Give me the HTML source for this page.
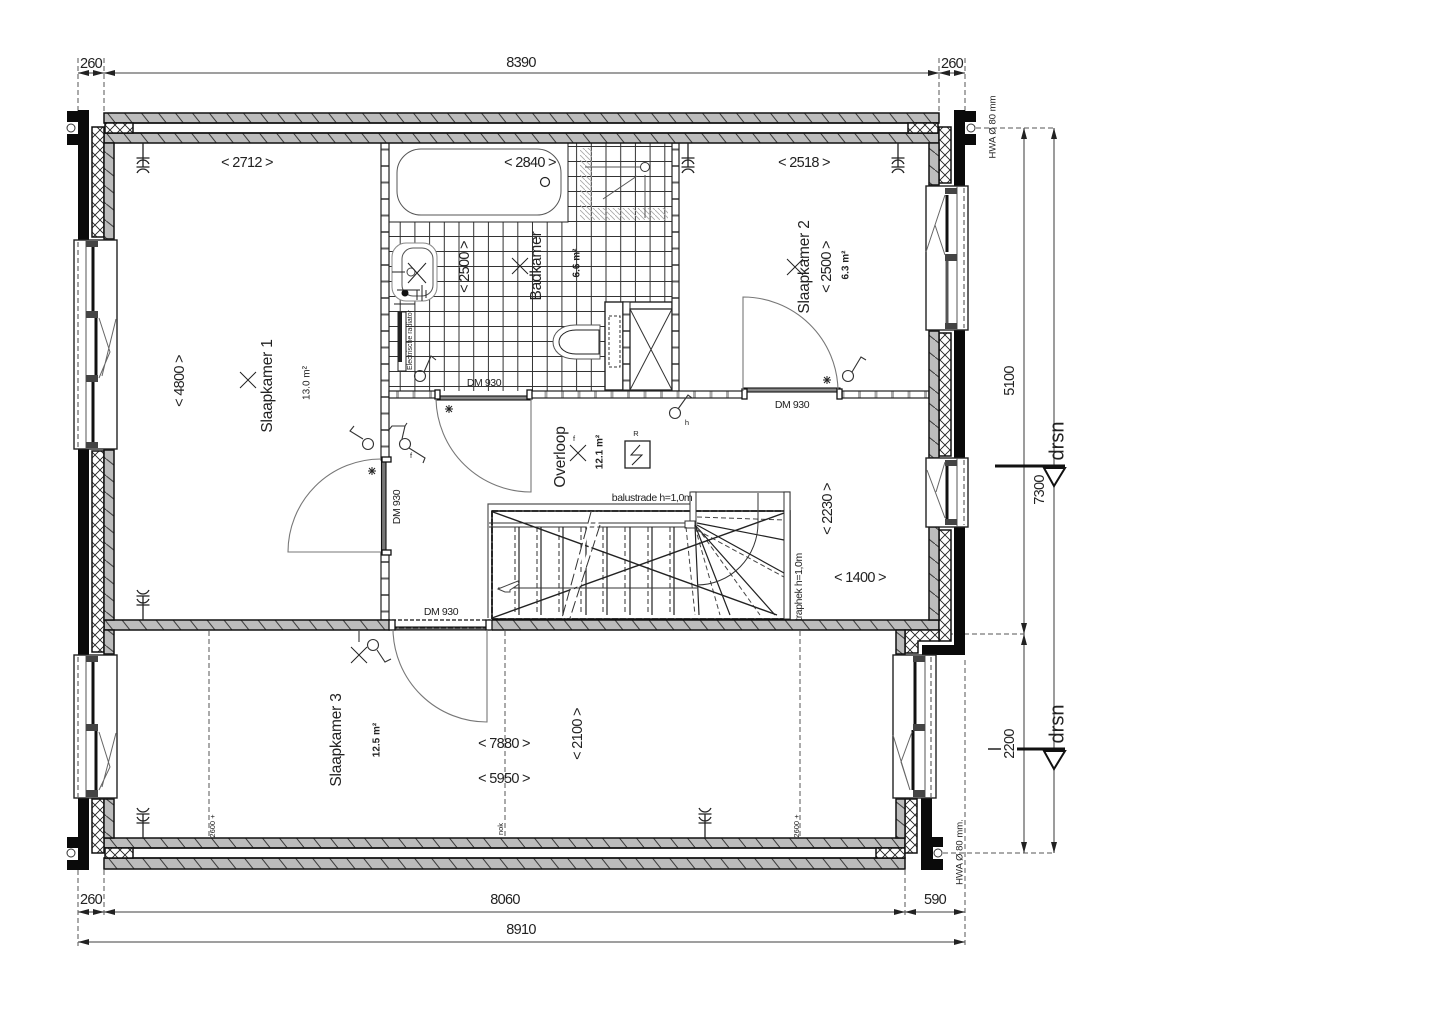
<!DOCTYPE html>
<html><head><meta charset="utf-8"><title>Floor plan</title>
<style>
html,body{margin:0;padding:0;background:#fff}
svg{display:block;filter:blur(.35px)}
text{font-family:"Liberation Sans",sans-serif;font-size:14.5px;letter-spacing:-.7px;fill:#222;text-anchor:middle;dominant-baseline:middle}
.s{font-size:10.5px;letter-spacing:-.4px}.b{font-size:10px;font-weight:bold;letter-spacing:0}.t{font-size:7.5px;letter-spacing:0}.l{font-size:15.5px;letter-spacing:-.2px}
.k{stroke:#222;fill:none}.g{stroke:#777;fill:none}.d{stroke:#555;fill:none;stroke-dasharray:5 3}
</style></head><body>
<svg width="1440" height="1017" viewBox="0 0 1440 1017" xmlns="http://www.w3.org/2000/svg">
<defs>
<pattern id="hh" patternUnits="userSpaceOnUse" width="17" height="21.25"><rect width="17" height="21.25" fill="#bcbcbc"/><path d="M0 0L17 21.25" stroke="#333" stroke-width="1" fill="none"/></pattern>
<pattern id="hv" patternUnits="userSpaceOnUse" width="21.25" height="17"><rect width="21.25" height="17" fill="#bcbcbc"/><path d="M0 0L21.25 17" stroke="#333" stroke-width="1" fill="none"/></pattern>
<pattern id="x" patternUnits="userSpaceOnUse" width="10" height="10"><rect width="10" height="10" fill="#fff"/><path d="M0 0L10 10M10 0L0 10" stroke="#222" stroke-width=".9"/></pattern>
<pattern id="tile" patternUnits="userSpaceOnUse" x="386" y="147" width="14.7" height="15"><path d="M14.2 0V15M0 14.5H14.7" stroke="#333" stroke-width="1" fill="none"/></pattern>
<pattern id="lv" patternUnits="userSpaceOnUse" width="8" height="16.5"><rect width="8" height="16.5" fill="#fff"/><rect y="0" width="8" height="2" fill="#666"/></pattern>
<pattern id="lh" patternUnits="userSpaceOnUse" width="16.5" height="8"><rect width="16.5" height="8" fill="#fff"/><rect x="0" width="3" height="8" fill="#aaa"/></pattern>
<pattern id="sh" patternUnits="userSpaceOnUse" width="5" height="5"><path d="M0 0L5 5" stroke="#aaa" stroke-width=".9"/></pattern>
<marker id="a" markerWidth="12" markerHeight="6" refX="11" refY="3" orient="auto-start-reverse" markerUnits="userSpaceOnUse"><path d="M0 0L11 3L0 6Z" fill="#222"/></marker>
</defs>
<rect width="1440" height="1017" fill="#fff"/>

<!-- dimension extension lines -->
<g class="d" stroke-width="1">
<path class="d" d="M78 58V112M104 58V113M939 58V113M965 58V112"/>
<path class="d" d="M78 870V946M104 870V916M905 870V916M965 660V946"/>
<path class="d" d="M976 128H1054M940 634H1024M943 853H1054"/>
<path class="d" d="M209 631V838M505 631V838M800 631V838"/>
</g>

<!-- top dims -->
<g stroke="#666" stroke-width="1.3" fill="none">
<path d="M78 73H104" marker-start="url(#a)" marker-end="url(#a)"/>
<path d="M104 73H939" marker-start="url(#a)" marker-end="url(#a)"/>
<path d="M939 73H965" marker-start="url(#a)" marker-end="url(#a)"/>
<path d="M78 912H104" marker-start="url(#a)" marker-end="url(#a)"/>
<path d="M104 912H905" marker-start="url(#a)" marker-end="url(#a)"/>
<path d="M905 912H965" marker-start="url(#a)" marker-end="url(#a)"/>
<path d="M78 942H965" marker-start="url(#a)" marker-end="url(#a)"/>
<path d="M1024 128V634" marker-start="url(#a)" marker-end="url(#a)"/>
<path d="M1024 634V853" marker-start="url(#a)" marker-end="url(#a)"/>
<path d="M1054 128V853" marker-start="url(#a)" marker-end="url(#a)"/>
</g>
<text x="91" y="64">260</text><text x="521" y="63">8390</text><text x="952" y="64">260</text>
<text x="91" y="900">260</text><text x="505" y="900">8060</text><text x="935" y="900">590</text><text x="521" y="930">8910</text>
<text transform="translate(1010 381) rotate(-90)">5100</text>
<text transform="translate(1040 490) rotate(-90)">7300</text>
<text transform="translate(1010 744) rotate(-90)">2200</text>
<text transform="translate(1058 441) rotate(-90)" style="font-size:20px;letter-spacing:0">drsn</text>
<text transform="translate(1058 724) rotate(-90)" style="font-size:20px;letter-spacing:0">drsn</text>
<text transform="translate(993 127) rotate(-90)" class="s" style="font-size:9.5px;letter-spacing:0">HWA Ø 80 mm</text>
<text transform="translate(960 852) rotate(-90)" class="s" style="font-size:9.5px;letter-spacing:0">HWA Ø 80 mm.</text>
<path d="M995 466H1065M1017 749H1065" stroke="#111" stroke-width="3" fill="none"/>
<path d="M988 749H1001" stroke="#111" stroke-width="1.4" fill="none"/>
<path d="M1044 468H1065L1054 486Z M1044 751H1065L1054 769Z" fill="#fff" stroke="#111" stroke-width="2"/>

<!-- tiles -->
<rect x="389" y="143" width="283" height="248" fill="url(#tile)"/>
<rect x="389" y="143" width="179" height="79" fill="#fff"/>
<path d="M389 222H568V143" class="k"/>
<rect x="397" y="149" width="164" height="66" rx="24" fill="#fff" stroke="#555" stroke-width="1"/>
<circle cx="545" cy="182" r="4.5" fill="none" stroke="#222" stroke-width="1.2"/>
<path d="M580 148H592V208H668V220H580Z" fill="url(#sh)"/>
<path d="M585 167H640M603 199L637 176M645 175V218" stroke="#555" fill="none"/>
<circle cx="645" cy="167" r="4.5" fill="#fff" stroke="#333"/>
<!-- sink -->
<rect x="392" y="243" width="45" height="58" rx="14" fill="#fff" stroke="#888" stroke-width="1"/>
<rect x="402" y="248" width="31" height="48" rx="11" fill="#fff" stroke="#555" stroke-width="1"/>
<circle cx="411" cy="272" r="4" fill="none" stroke="#444"/>
<path d="M408 263L426 283M426 263L408 283" stroke="#222" stroke-width="1"/>
<circle cx="405" cy="293" r="3.5" fill="#111"/>
<path d="M392 272H405M397 290H420M394 304H415M417 300V290M422 301V285M426 298V290" stroke="#222" stroke-width="1" fill="none"/>
<!-- radiator -->
<rect x="398" y="312" width="8" height="59" fill="#fff" stroke="#222"/>
<rect x="398" y="312" width="4" height="50" fill="#222"/>
<text transform="translate(410 340) rotate(-90)" class="t" style="font-size:7px">Electrische radiator</text>
<!-- toilet -->
<path d="M600 325H575C560 325 553 334 553 342C553 350 560 359 575 359H600Z" fill="#fff" stroke="#555"/>
<path d="M599 330H576C565 330 559 336 559 342C559 348 565 354 576 354H599Z" fill="#fff" stroke="#222"/>
<rect x="605" y="302" width="18" height="88" fill="#fff" stroke="#222" stroke-width="1.4"/>
<rect x="609" y="316" width="11" height="51" fill="none" stroke="#333" stroke-dasharray="3 2"/>
<rect x="623" y="302" width="49" height="88" fill="#fff" stroke="#222" stroke-width="1.4"/>
<rect x="623" y="302" width="7" height="88" fill="url(#lv)" stroke="#222"/>
<rect x="630" y="309" width="42" height="81" fill="#fff" stroke="#222" stroke-width="1.3"/>
<path d="M630 309L672 390M672 309L630 390" stroke="#333"/>

<!-- partitions -->
<g stroke="#222" stroke-width="1.2">
<rect x="381" y="143" width="8" height="317" fill="url(#lv)"/>
<rect x="381" y="552" width="8" height="68" fill="url(#lv)"/>
<rect x="672" y="143" width="7" height="248" fill="url(#lv)"/>
<rect x="389" y="391" width="47" height="7" fill="url(#lh)"/>
<rect x="531" y="391" width="212" height="7" fill="url(#lh)"/>
<rect x="840" y="391" width="89" height="7" fill="url(#lh)"/>
</g>

<!-- stairs -->
<g fill="none">
<path d="M488 618V504H692M692 504V492H790V511" stroke="#555" stroke-width="1.2"/>
<rect x="492" y="511" width="298" height="108" stroke="#111" stroke-width="1.5"/>
<path d="M492 511H692M695 511H790M492 619H785M785 511V619M492 511V619" stroke="#111" stroke-width="1.6" stroke-dasharray="6 2"/>
<rect x="690" y="492" width="6" height="33" fill="#fff" stroke="#333"/>
<rect x="784" y="492" width="6" height="127" fill="#fff" stroke="#333"/>
<path d="M489 523H685M489 527H685" stroke="#333" stroke-width="1.1"/>
<rect x="685" y="521" width="10" height="7" fill="#fff" stroke="#333"/>
<path d="M519 527V615M541 527V615M563 527V615M586 527V615M607 527V615M630 527V615M652 527V615M674 527V615" stroke="#222" stroke-width="1.2"/>
<path d="M515 527V615M537 527V615M559 527V615M581 527V615M603 527V615M625 527V615M648 527V615M670 527V615" stroke="#444" stroke-width="1.1" stroke-dasharray="5 3"/>
<path d="M695 525L699 615M695 525L730 615M695 525L775 615M697 525L784 573M697 523L784 540" stroke="#222" stroke-width="1.2"/>
<path d="M686 527L695 615M695 527L720 615M697 527L760 615M697 530L784 577M697 517L784 520" stroke="#444" stroke-width="1" stroke-dasharray="5 3"/>
<path d="M493 512L777 615M492 618L784 513" stroke="#222" stroke-width="1.4"/>
<path d="M592 512L565 618M600 512L570 618" stroke="#fff" stroke-width="3"/>
<path d="M591 512L562 618M600 525L570 618" stroke="#333" stroke-width="1" stroke-dasharray="12 4"/>
<path d="M758 493V523A61 62 0 0 1 697 585" stroke="#333"/>
<path d="M498 588H697" stroke="#333"/>
<path d="M498 589L518 581L519 584L510 590V592H505Z" fill="#fff" stroke="#444"/>
</g>

<!-- main walls -->
<g stroke="#111" stroke-width="1.5">
<rect x="104" y="113" width="835" height="10" fill="url(#hh)"/>
<rect x="104" y="133" width="835" height="10" fill="url(#hh)"/>
<path d="M104 123H939M104 133H939" />
<rect x="105" y="123" width="28" height="10" fill="url(#x)"/>
<rect x="908" y="123" width="30" height="10" fill="url(#x)"/>
<rect x="104" y="620" width="835" height="10" fill="url(#hh)"/>
<rect x="104" y="838" width="801" height="10" fill="url(#hh)"/>
<rect x="104" y="858" width="801" height="11" fill="url(#hh)"/>
<path d="M104 848H905M104 858H905"/>
<rect x="105" y="848" width="28" height="10" fill="url(#x)"/>
<rect x="876" y="848" width="29" height="10" fill="url(#x)"/>
<!-- left -->
<rect x="92" y="127" width="12" height="110" fill="url(#x)"/>
<rect x="92" y="451" width="12" height="201" fill="url(#x)"/>
<rect x="92" y="799" width="12" height="54" fill="url(#x)"/>
<rect x="104" y="143" width="10" height="96" fill="url(#hv)"/>
<rect x="104" y="450" width="10" height="170" fill="url(#hv)"/>
<rect x="104" y="630" width="10" height="24" fill="url(#hv)"/>
<rect x="104" y="799" width="10" height="39" fill="url(#hv)"/>
<!-- right -->
<rect x="939" y="127" width="12" height="56" fill="url(#x)"/>
<rect x="939" y="333" width="12" height="123" fill="url(#x)"/>
<rect x="939" y="530" width="12" height="111" fill="url(#x)"/>
<rect x="929" y="143" width="10" height="42" fill="url(#hv)"/>
<rect x="929" y="331" width="10" height="127" fill="url(#hv)"/>
<rect x="929" y="527" width="10" height="93" fill="url(#hv)"/>
<path d="M905 630H939V641H918V653H905Z" fill="url(#x)"/>
<rect x="896" y="630" width="9" height="24" fill="url(#hv)"/>
<rect x="905" y="799" width="12" height="54" fill="url(#x)"/>
<rect x="896" y="799" width="9" height="39" fill="url(#hv)"/>
</g>

<!-- doors -->
<g>
<rect x="436" y="396" width="95" height="4" fill="#888" stroke="#111" stroke-width="1.1"/>
<rect x="743" y="388" width="97" height="4" fill="#888" stroke="#111" stroke-width="1.1"/>
<rect x="381.500" y="459" width="4.500" height="93" fill="#777" stroke="#111" stroke-width="1.1"/>
<rect x="390" y="619" width="102" height="12" fill="#fff"/>
<path d="M392 620H490" stroke="#111" stroke-width="1.2" stroke-dasharray="4 2"/>
<rect x="392" y="627" width="98" height="3" fill="#777" stroke="#111" stroke-width="1.1"/>
<path d="M392 628H490" stroke="#222" stroke-width="1" stroke-dasharray="5 2"/>
<g fill="#fff" stroke="#111" stroke-width="1.3">
<rect x="435" y="390" width="5" height="9"/><rect x="527" y="390" width="5" height="9"/>
<rect x="742" y="389" width="5" height="10"/><rect x="837" y="389" width="5" height="10"/>
<rect x="382" y="457" width="9" height="5"/><rect x="382" y="550" width="9" height="5"/>
<rect x="389" y="620" width="6" height="10"/><rect x="486" y="620" width="6" height="10"/>
</g>
<path d="M436 399A95 95 0 0 0 531 492V398M743 391V297A95 95 0 0 1 838 390M381 459A93 93 0 0 0 288 552H381M393 630A94 94 0 0 0 487 722V630" fill="none" stroke="#777" stroke-width="1.1"/>
</g>

<!-- black cladding -->
<g fill="#0a0a0a">
<rect x="78" y="110" width="11" height="132"/><rect x="67" y="111" width="22" height="34"/>
<rect x="78" y="449" width="11" height="208"/>
<rect x="78" y="798" width="11" height="72"/><rect x="67" y="837" width="22" height="33"/>
<rect x="954" y="110" width="11" height="78"/><rect x="954" y="111" width="22" height="34"/>
<rect x="954" y="330" width="11" height="130"/>
<rect x="954" y="526" width="11" height="129"/><path d="M922 645H965V655H922Z"/>
<rect x="921" y="798" width="11" height="72"/><rect x="921" y="837" width="22" height="33"/>
</g>
<g fill="#fff" stroke="#333">
<rect x="67" y="122" width="11" height="12" stroke="none"/><circle cx="71" cy="128" r="4"/>
<rect x="965" y="122" width="11" height="12" stroke="none"/><circle cx="971" cy="128" r="4"/>
<rect x="933" y="847" width="10" height="12" stroke="none"/><circle cx="938" cy="853" r="4"/>
<rect x="67" y="848" width="11" height="12" stroke="none"/><circle cx="71" cy="853" r="4"/>
</g>

<!-- windows -->
<g>
<!-- left top -->
<rect x="74" y="240" width="43" height="209" fill="#fff" stroke="#222" stroke-width="1.4"/>
<path d="M86 240V449" stroke="#555"/><path d="M78 242V448" stroke="#444" stroke-dasharray="5 3"/>
<path d="M93 245V315" stroke="#111" stroke-width="3"/><path d="M96 315V378" stroke="#111" stroke-width="3"/><path d="M93 378V445" stroke="#111" stroke-width="3"/>
<g fill="#444"><rect x="86" y="241" width="12" height="6"/><rect x="86" y="311" width="12" height="7"/><rect x="86" y="375" width="12" height="7"/><rect x="86" y="442" width="12" height="6"/></g>
<path d="M99 318L110 352L99 378M116 319L102 376" stroke="#666" fill="none"/>
<!-- left bottom -->
<rect x="74" y="655" width="43" height="143" fill="#fff" stroke="#222" stroke-width="1.4"/>
<path d="M86 655V798" stroke="#555"/><path d="M78 657V797" stroke="#444" stroke-dasharray="5 3"/>
<path d="M93 660V727" stroke="#111" stroke-width="3"/><path d="M96 730V790" stroke="#111" stroke-width="3"/>
<g fill="#444"><rect x="86" y="656" width="12" height="6"/><rect x="86" y="724" width="12" height="7"/><rect x="86" y="790" width="12" height="7"/></g>
<path d="M99 732L110 767L99 790M116 733L102 787" stroke="#666" fill="none"/>
<!-- right top -->
<rect x="926" y="186" width="42" height="144" fill="#fff" stroke="#222" stroke-width="1.4"/>
<path d="M957 186V330" stroke="#555"/><path d="M964 188V328" stroke="#444" stroke-dasharray="5 3"/>
<path d="M947 195V252" stroke="#111" stroke-width="3"/><path d="M947 256V325" stroke="#555" stroke-width="3"/>
<g fill="#444"><rect x="945" y="188" width="12" height="6"/><rect x="945" y="254" width="12" height="7"/><rect x="945" y="323" width="12" height="6"/></g>
<path d="M945 195L926 252M935 225L945 255" stroke="#666" fill="none"/>
<!-- right mid -->
<rect x="926" y="458" width="42" height="69" fill="#fff" stroke="#222" stroke-width="1.4"/>
<path d="M957 458V527" stroke="#555"/><path d="M964 460V525" stroke="#444" stroke-dasharray="5 3"/>
<path d="M947 465V520" stroke="#111" stroke-width="3"/>
<g fill="#444"><rect x="945" y="460" width="12" height="6"/><rect x="945" y="519" width="12" height="6"/></g>
<path d="M927 470L945 518M936 492L945 462" stroke="#666" fill="none"/>
<!-- right bottom -->
<rect x="893" y="655" width="43" height="143" fill="#fff" stroke="#222" stroke-width="1.4"/>
<path d="M925 655V798" stroke="#555"/><path d="M931 657V797" stroke="#444" stroke-dasharray="5 3"/>
<path d="M915 658V725" stroke="#111" stroke-width="3"/><path d="M913 730V790" stroke="#111" stroke-width="3"/>
<g fill="#444"><rect x="913" y="656" width="12" height="6"/><rect x="913" y="724" width="12" height="7"/><rect x="913" y="790" width="12" height="7"/></g>
<path d="M893 735L910 790M912 732L901 762L910 790" stroke="#666" fill="none"/>
</g>

<!-- radiators / valves -->
<g stroke="#222" stroke-width="1.3" fill="none">
<path transform="translate(143 143)" d="M0 0V24M-6.500 15H6.500M-6 21Q-4 17 0 17Q4 17 6 21M-6.500 24H6.500M-6 30Q-4 26 0 26Q4 26 6 30"/>
<path transform="translate(898 143)" d="M0 0V24M-6.500 15H6.500M-6 21Q-4 17 0 17Q4 17 6 21M-6.500 24H6.500M-6 30Q-4 26 0 26Q4 26 6 30"/>
<path transform="translate(688 143)" d="M0 0V24M-6.500 15H6.500M-6 21Q-4 17 0 17Q4 17 6 21M-6.500 24H6.500M-6 30Q-4 26 0 26Q4 26 6 30"/>
<path transform="translate(143 620) scale(1 -1)" d="M0 0V24M-6.500 15H6.500M-6 21Q-4 17 0 17Q4 17 6 21M-6.500 24H6.500M-6 30Q-4 26 0 26Q4 26 6 30"/>
<path transform="translate(143 838) scale(1 -1)" d="M0 0V24M-6.500 15H6.500M-6 21Q-4 17 0 17Q4 17 6 21M-6.500 24H6.500M-6 30Q-4 26 0 26Q4 26 6 30"/>
<path transform="translate(705 838) scale(1 -1)" d="M0 0V24M-6.500 15H6.500M-6 21Q-4 17 0 17Q4 17 6 21M-6.500 24H6.500M-6 30Q-4 26 0 26Q4 26 6 30"/>
</g>

<!-- switches -->
<g fill="none" stroke="#333" stroke-width="1.1">
<circle cx="420" cy="376" r="5.5"/><path d="M424 372L431 356L436 360"/>
<circle cx="368" cy="444" r="5.5"/><path d="M363 439L350 431L354 426"/>
<circle cx="405" cy="444" r="5.5"/><path d="M409 448L425 458L423 463M402 439L405 426H392L388 431M405 426L407 423"/>
<circle cx="675" cy="413" r="5.5"/><path d="M678 409L688 395L692 398"/>
<circle cx="848" cy="376" r="5.5"/><path d="M852 372L861 357L866 360"/>
<circle cx="373" cy="645" r="5.5"/><path d="M377 650L385 662L391 659M359 631V642"/>
</g>
<!-- crosses -->
<g stroke="#222" stroke-width="1" fill="none">
<path d="M240 372L256 388M256 372L240 388"/>
<path d="M512 258L528 274M528 258L512 274"/>
<path d="M787 259L803 275M803 259L787 275"/>
<path d="M570 445L586 461M586 445L570 461"/>
<path d="M351 647L367 663M367 647L351 663"/>
<rect x="625" y="441" width="25" height="27" stroke-width="1.3"/>
<path d="M640 445L631 455H642L632 465" stroke-width="1"/>
</g>
<!-- ceiling lights stars -->
<g class="k" stroke-width="1">
<path d="M445 409H453M449 405V413M446 406L452 412M452 406L446 412"/>
<path d="M823 380H831M827 376V384M824 377L830 383M830 377L824 383"/>
<path d="M368 471H376M372 467V475M369 468L375 474M375 468L369 474"/>
</g>

<!-- labels -->
<text x="247" y="163">&lt; 2712 &gt;</text>
<text x="530" y="163">&lt; 2840 &gt;</text>
<text x="804" y="163">&lt; 2518 &gt;</text>
<text transform="translate(180 381) rotate(-90)">&lt; 4800 &gt;</text>
<text transform="translate(268 386) rotate(-90)" class="l">Slaapkamer 1</text>
<text transform="translate(307 383) rotate(-90)" class="b" style="font-weight:normal">13.0 m²</text>
<text transform="translate(465 267) rotate(-90)">&lt; 2500 &gt;</text>
<text transform="translate(537 266) rotate(-90)" class="l">Badkamer</text>
<text transform="translate(577 263) rotate(-90)" class="b">6.6 m²</text>
<text transform="translate(827 267) rotate(-90)">&lt; 2500 &gt;</text>
<text transform="translate(805 267) rotate(-90)" class="l">Slaapkamer 2</text>
<text transform="translate(846 265) rotate(-90)" class="b">6.3 m²</text>
<text transform="translate(561 457) rotate(-90)" class="l">Overloop</text>
<text transform="translate(600 452) rotate(-90)" class="b">12.1 m²</text>
<text transform="translate(828 509) rotate(-90)">&lt; 2230 &gt;</text>
<text x="860" y="578">&lt; 1400 &gt;</text>
<text transform="translate(337 740) rotate(-90)" class="l">Slaapkamer 3</text>
<text transform="translate(377 740) rotate(-90)" class="b">12.5 m²</text>
<text x="504" y="744">&lt; 7880 &gt;</text>
<text x="504" y="779">&lt; 5950 &gt;</text>
<text transform="translate(578 734) rotate(-90)">&lt; 2100 &gt;</text>
<text x="484" y="383" class="s">DM 930</text>
<text x="792" y="405" class="s">DM 930</text>
<text x="441" y="612" class="s">DM 930</text>
<text transform="translate(397 507) rotate(-90)" class="s">DM 930</text>
<text x="652" y="498" class="s">balustrade h=1,0m</text>
<text transform="translate(799 587) rotate(-90)" class="s">traphek h=1,0m</text>
<text x="636" y="434" class="t">R</text>
<text x="574" y="439" class="t">f</text>
<text x="411" y="456" class="t">f</text>
<text x="687" y="423" class="t">h</text>
<text transform="translate(213 826) rotate(-90)" class="t">2600 +</text>
<text transform="translate(501 829) rotate(-90)" class="t">nok</text>
<text transform="translate(797 826) rotate(-90)" class="t">2600 +</text>
</svg>
</body></html>
